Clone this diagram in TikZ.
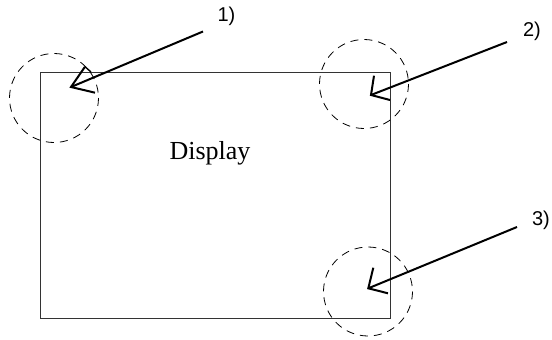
\documentclass[tikz,border=0pt]{standalone}
\usepackage{fontspec}
\setmainfont{Liberation Serif}
\newfontfamily\lblfont{Liberation Sans}
\begin{document}
\begin{tikzpicture}[x=1pt,y=-1pt,
  frame/.style={draw=black!80,line width=0.9pt},
  zone/.style={draw=black,line width=0.8pt,dash pattern=on 8pt off 6pt},
  pointer/.style={draw=black,line width=2pt},
  lbl/.style={font=\lblfont\fontsize{20}{24}\selectfont,inner sep=0pt},
  title/.style={font=\fontsize{26}{30}\selectfont,inner sep=0pt,anchor=base}]
\useasboundingbox (0,0) rectangle (552,340);
\draw[frame] (40.5,72.5) rectangle (390.5,318);
\node[title] (disp) at (210,159.3) {Display};
\draw[zone] (54,98) circle (44.5);
\draw[zone] (364,84) circle (44.5);
\draw[zone] (368,291.5) circle (44.5);
\node[lbl] (l1) at (226.5,16.5) {1)};
\node[lbl] (l2) at (532,31) {2)};
\node[lbl] (l3) at (541,220) {3)};
\coordinate (s1) at (203,31.5);
\coordinate (s2) at (507,42);
\coordinate (s3) at (517,227);
\coordinate (t1) at (71,87);
\coordinate (t2) at (371,95);
\coordinate (t3) at (368.3,288.3);
\draw[pointer] (s1) -- (t1);
\draw[pointer] (t1) ++(14,-20.3) -- (t1) -- ++(24,5.7);
\draw[pointer,line width=1.4pt] (t1) ++(14,-20.3) -- ++(6,5.3);
\draw[pointer] (s2) -- (t2);
\draw[pointer] (t2) ++(3,-19.3) -- (t2) -- ++(19,5);
\draw[pointer] (s3) -- (t3);
\draw[pointer] (t3) ++(5,-20.6) -- (t3) -- ++(19.7,5);
\end{tikzpicture}
\end{document}
